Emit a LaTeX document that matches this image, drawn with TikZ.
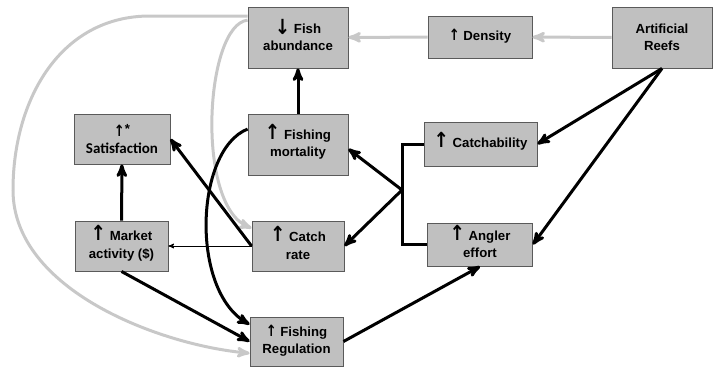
\documentclass[tikz,border=0pt]{standalone}
\usepackage{fontspec}
\setmainfont{Liberation Sans}
\newfontfamily\arrowfont{DejaVu Sans}
\newfontfamily\calfont{Carlito}
\usetikzlibrary{arrows}
\definecolor{boxfill}{HTML}{C0C0C0}
\definecolor{boxline}{HTML}{5A5A5A}
\definecolor{fadegray}{HTML}{C8C8C8}
\newcommand\up{\smash{\scalebox{1}[1.2]{\arrowfont\bfseries\fontsize{13}{12}\selectfont ↑}}}
\newcommand\bigup{\smash{\scalebox{1.15}[1.3]{\arrowfont\bfseries\fontsize{16}{12}\selectfont ↑}}}
\newcommand\bigdown{\smash{\raisebox{-1pt}{\scalebox{1.15}[1.3]{\arrowfont\bfseries\fontsize{16}{12}\selectfont ↓}}}}
\tikzset{>=stealth',x=1pt,y=-1pt,
  box/.style={draw=boxline,fill=boxfill,line width=0.9pt,inner sep=0pt,align=center,
    font=\fontsize{13.2}{17.5}\selectfont\bfseries},
  cause/.style={->,line width=3pt},
  faint/.style={->,line width=3pt,color=fadegray},
  link/.style={->,line width=1pt}}

\begin{document}
\begin{tikzpicture}
              \useasboundingbox (0,0) rectangle (718,370);

              \node[box,minimum width=100pt,minimum height=61pt] (abund) at (298,37.5) {\bigdown\ Fish\\abundance};
              \node[box,minimum width=104pt,minimum height=42pt] (dens) at (480,37) {\up\ Density};
              \node[box,minimum width=100pt,minimum height=61pt] (reefs) at (662,37.5) {Artificial\\Reefs};

              \node[box,minimum width=96pt,minimum height=50pt] (satis) at (122,139) {\up\raisebox{3pt}{*}\\{\calfont\fontsize{15}{17.5}\selectfont Satisfaction}};
              \node[box,minimum width=100pt,minimum height=61pt] (mort) at (298,144.5) {\bigup\ Fishing\\mortality};
              \node[box,minimum width=113pt,minimum height=44pt] (catchab) at (480.5,144) {\bigup\ Catchability};

              \node[box,minimum width=93pt,minimum height=50pt] (market) at (121.5,246) {\bigup\ Market\\activity (\$)};
              \node[box,minimum width=92pt,minimum height=50pt] (crate) at (298,246) {\bigup\ Catch\\rate};
              \node[box,minimum width=105pt,minimum height=43pt] (effort) at (480,244.5) {\bigup\ Angler\\effort};

              \node[box,minimum width=93pt,minimum height=49pt] (reg) at (296.5,341.5) {\up\ Fishing\\Regulation};

              \coordinate (j) at (402,190);

              % gray feedback
              \draw[faint] (abund.157) -- (150,16) .. controls (60,16) and (13,100) .. (13,190)
                .. controls (13,290) and (160,345) .. (reg.194);
              \draw[faint] (abund.161) .. controls (205,25) and (195,205) .. (crate.159);
              \draw[cause] (mort.163) .. controls (195,150) and (190,290) .. (reg.160);
              \draw[line width=3pt] (catchab.west) -| (j) |- (effort.west);

              \path
              (reefs) edge [faint] (dens)
              (dens) edge [faint] (abund)

              (mort) edge [cause] (abund)

              (reefs.south) edge [cause] (catchab.east)
              (reefs.south) edge [cause] (effort.east)

              (j) edge [cause] (mort.355)
              (j) edge [cause] (crate.east)

              (crate.west) edge [link] (market.east)
              (crate.west) edge [cause] (satis.east)
              (market) edge [cause] (satis)

              (market.south) edge [cause] (reg.west)
              (reg.east) edge [cause] (effort.south)
              ;
\end{tikzpicture}
\end{document}
